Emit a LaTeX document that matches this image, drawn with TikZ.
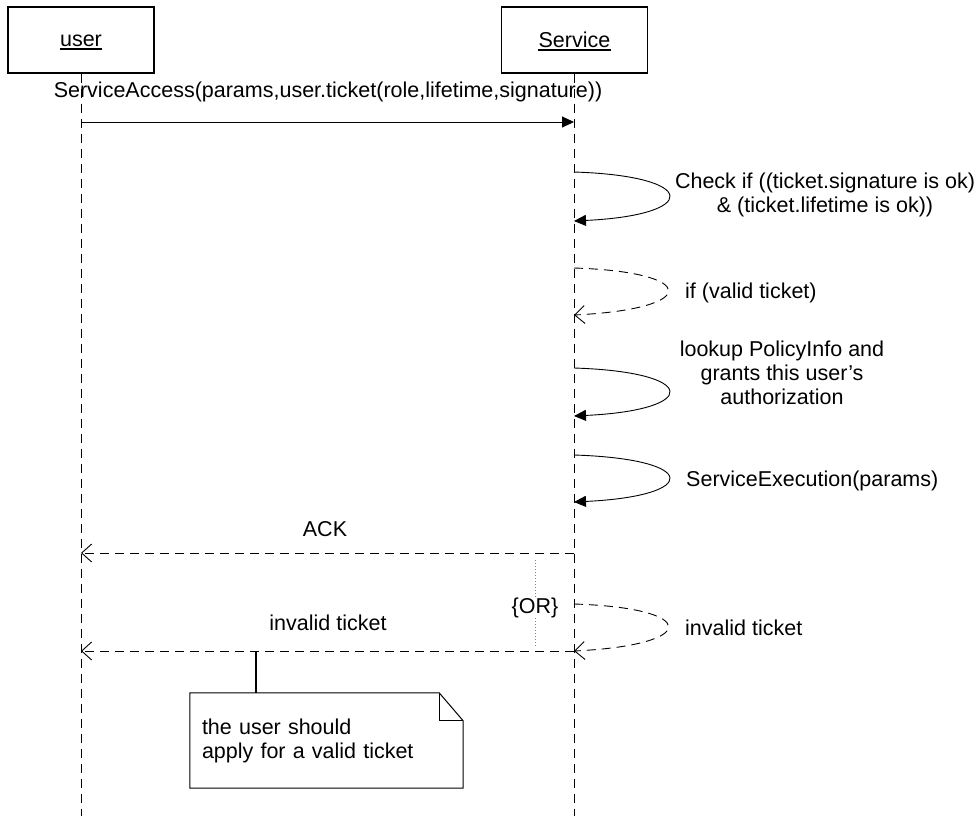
\documentclass[tikz,border=0pt]{standalone}
\usepackage{fontspec}
\setmainfont{Liberation Sans}
\usetikzlibrary{arrows.meta}

\begin{document}
\begin{tikzpicture}[x=1pt,y=-1pt,
  every node/.style={font=\fontsize{21.5}{24}\selectfont, inner sep=0pt},
  actor/.style={draw, line width=1.2pt, minimum width=146pt, minimum height=66pt},
  lifeline/.style={line width=0.9pt, dash pattern=on 9pt off 6pt},
  call/.style={line width=0.9pt, -{Triangle[length=12pt,width=11pt]}},
  reply/.style={line width=0.9pt, dash pattern=on 9pt off 6pt,
    -{Straight Barb[length=10pt,width=18pt,line width=0.9pt]}},
  notebox/.style={minimum width=273pt, minimum height=95pt, text width=249pt,
    align=left},
  lbl/.style={anchor=base, align=center},
  lblm/.style={anchor=center, align=center},
  lblw/.style={anchor=base west, align=left}
]
\useasboundingbox (0,0) rectangle (978,816);

% participants
\node[actor] (user) at (81,40) {};
\node[actor] (svc)  at (574.5,40) {};
\node[anchor=base] (utext) at (81,47) {user};
\node[anchor=base] (stext) at (574.5,48) {Service};
\draw[line width=1.1pt] ([yshift=-2pt]utext.base west) -- ([yshift=-2pt]utext.base east);
\draw[line width=1.1pt] ([yshift=-2pt]stext.base west) -- ([yshift=-2pt]stext.base east);

% lifelines
\coordinate (uend) at (81,816);
\coordinate (send) at (574,816);
\draw[lifeline] (user.south) -- (uend);
\draw[lifeline] (svc.south -| send) -- (send);

% points on the lifelines
\coordinate (u1) at (81,122);  \coordinate (s1) at (574,122);
\coordinate (a1) at (574,172); \coordinate (b1) at (574,221);
\coordinate (a2) at (574,268); \coordinate (b2) at (574,315);
\coordinate (a3) at (574,368); \coordinate (b3) at (574,416);
\coordinate (a4) at (574,455); \coordinate (b4) at (574,502);
\coordinate (sack) at (574,553); \coordinate (uack) at (81,553);
\coordinate (a5) at (574,604); \coordinate (b5) at (574,651);
\coordinate (uinv) at (81,651);

% request
\node[lbl] (req) at (328,98) {ServiceAccess(params,user.ticket(role,lifetime,signature))};
\draw[call] (u1) -- (s1);

% checks on the service side
\draw[call] (a1) .. controls (700,176) and (700,215) .. (b1);
\node[lblm] (chk) at (825,195) {Check if ((ticket.signature is ok)\\\& (ticket.lifetime is ok))};

\draw[reply] (a2) .. controls (700,272) and (700,309) .. (b2);
\node[lblw] (valid) at (685,298) {if (valid ticket)};

\draw[call] (a3) .. controls (700,372) and (700,410) .. (b3);
\node[lblm] (look) at (782,373) {lookup PolicyInfo and\\grants this user's\\authorization};

\draw[call] (a4) .. controls (700,459) and (700,496) .. (b4);
\node[lblw] (exec) at (686,486) {ServiceExecution(params)};

% answers
\draw[reply] (sack) -- (uack);
\node[lbl] (ack) at (325,536) {ACK};

\node (or) at (535,608) {\{OR\}};
\coordinate (ortop) at (535,560);
\coordinate (orbot) at (535,648);
\draw[gray, line width=0.8pt, dash pattern=on 1pt off 2pt] (ortop) -- (or.north);
\draw[gray, line width=0.8pt, dash pattern=on 1pt off 2pt] (or.south) -- (orbot);

\draw[reply] (a5) .. controls (700,608) and (700,645) .. (b5);
\node[lblw] (inv2) at (685,635) {invalid ticket};

\draw[reply] (b5) -- (uinv);
\node[lbl] (inv1) at (328,630) {invalid ticket};

% note
\node[notebox] (note) at (326.5,740.5) {the user should\\apply for a valid ticket};
\draw[line width=1pt] (note.north west) -- ([xshift=-24pt]note.north east)
  -- ([yshift=-28pt]note.north east) -- (note.south east) -- (note.south west) -- cycle;
\draw[line width=1pt] ([xshift=-24pt]note.north east) -- ([xshift=-24pt,yshift=-28pt]note.north east)
  -- ([yshift=-28pt]note.north east);
\coordinate (nc) at (256,651);
\draw[line width=2pt] (nc) -- (nc |- note.north);
\end{tikzpicture}
\end{document}
